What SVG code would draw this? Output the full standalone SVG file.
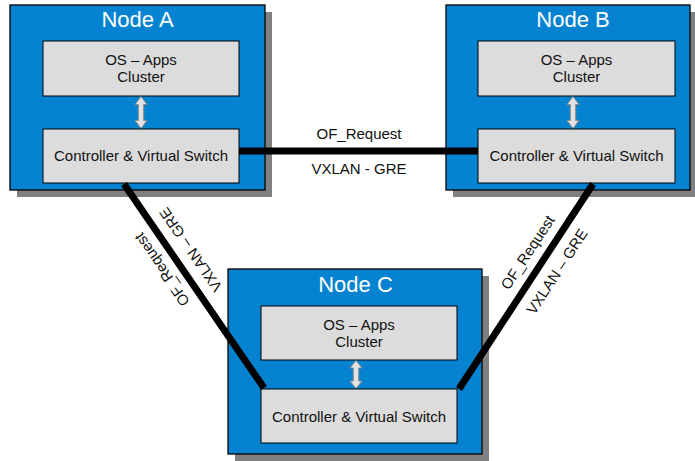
<svg xmlns="http://www.w3.org/2000/svg" width="695" height="461" viewBox="0 0 695 461">
<style>
.shadow{fill:#808080}
.node{fill:#0683d0;stroke:#000;stroke-width:1.3}
.inner{fill:#dcdcdc;stroke:#000;stroke-width:1}
.title{font-family:"Liberation Sans",Arial,sans-serif;font-size:22px;fill:#fff;text-anchor:middle}
.t{font-family:"Liberation Sans",Arial,sans-serif;font-size:15px;fill:#111;text-anchor:middle}
.dbl{fill:#e2e2e2;stroke:#8a8a8a;stroke-width:1}
.link{stroke:#000;stroke-width:7;fill:none;stroke-linecap:butt}
</style>
<rect width="695" height="461" fill="#fff"/>
<g id="nodeA">
<rect class="shadow" x="17" y="12" width="255" height="185"/>
<rect class="node" x="10" y="5" width="255" height="185"/>
<text class="title" x="137.5" y="27">Node A</text>
<rect class="inner" x="43" y="41" width="196" height="55"/>
<text class="t" x="141" y="65">OS – Apps</text>
<text class="t" x="141" y="82">Cluster</text>
<path class="dbl" d="M141,96.5 L147,104.5 L143.7,104.5 L143.7,120.5 L147,120.5 L141,128.5 L135,120.5 L138.3,120.5 L138.3,104.5 L135,104.5 Z"/>
<rect class="inner" x="43" y="129" width="196" height="54"/>
<text class="t" x="141" y="161">Controller &amp; Virtual Switch</text>
</g>
<g id="nodeB">
<rect class="shadow" x="453" y="12" width="244" height="185"/>
<rect class="node" x="446" y="5" width="244" height="185"/>
<text class="title" x="573" y="27">Node B</text>
<rect class="inner" x="478" y="41" width="197" height="55"/>
<text class="t" x="576.5" y="65">OS – Apps</text>
<text class="t" x="576.5" y="82">Cluster</text>
<path class="dbl" d="M573,96.5 L579,104.5 L575.7,104.5 L575.7,120.5 L579,120.5 L573,128.5 L567,120.5 L570.3,120.5 L570.3,104.5 L567,104.5 Z"/>
<rect class="inner" x="478" y="129" width="197" height="54"/>
<text class="t" x="576.5" y="161">Controller &amp; Virtual Switch</text>
</g>
<g id="nodeC">
<rect class="shadow" x="235" y="276" width="254" height="185"/>
<rect class="node" x="228" y="269" width="254" height="185"/>
<text class="title" x="355.5" y="292">Node C</text>
<rect class="inner" x="261" y="306" width="196" height="54"/>
<text class="t" x="359" y="330">OS – Apps</text>
<text class="t" x="359" y="347">Cluster</text>
<path class="dbl" d="M356,360.5 L362,368 L358.7,368 L358.7,381 L362,381 L356,388.5 L350,381 L353.3,381 L353.3,368 L350,368 Z"/>
<rect class="inner" x="261" y="389" width="196" height="54"/>
<text class="t" x="359" y="422">Controller &amp; Virtual Switch</text>
</g>
<g id="connectors">
<line class="link" x1="239" y1="151" x2="478" y2="151"/>
<text class="t" x="359" y="139">OF_Request</text>
<text class="t" x="359" y="174">VXLAN - GRE</text>
<line class="link" x1="124" y1="184" x2="264" y2="388"/>
<g transform="translate(176.1,259.8) rotate(-124.5)">
<text class="t" x="0" y="-12">OF_Request</text>
<text class="t" x="0" y="23">VXLAN – GRE</text>
</g>
<line class="link" x1="593" y1="184" x2="459" y2="389"/>
<g transform="translate(542.1,261.8) rotate(-56.8)">
<text class="t" x="0" y="-12">OF_Request</text>
<text class="t" x="0" y="23">VXLAN – GRE</text>
</g>
</g>
</svg>
